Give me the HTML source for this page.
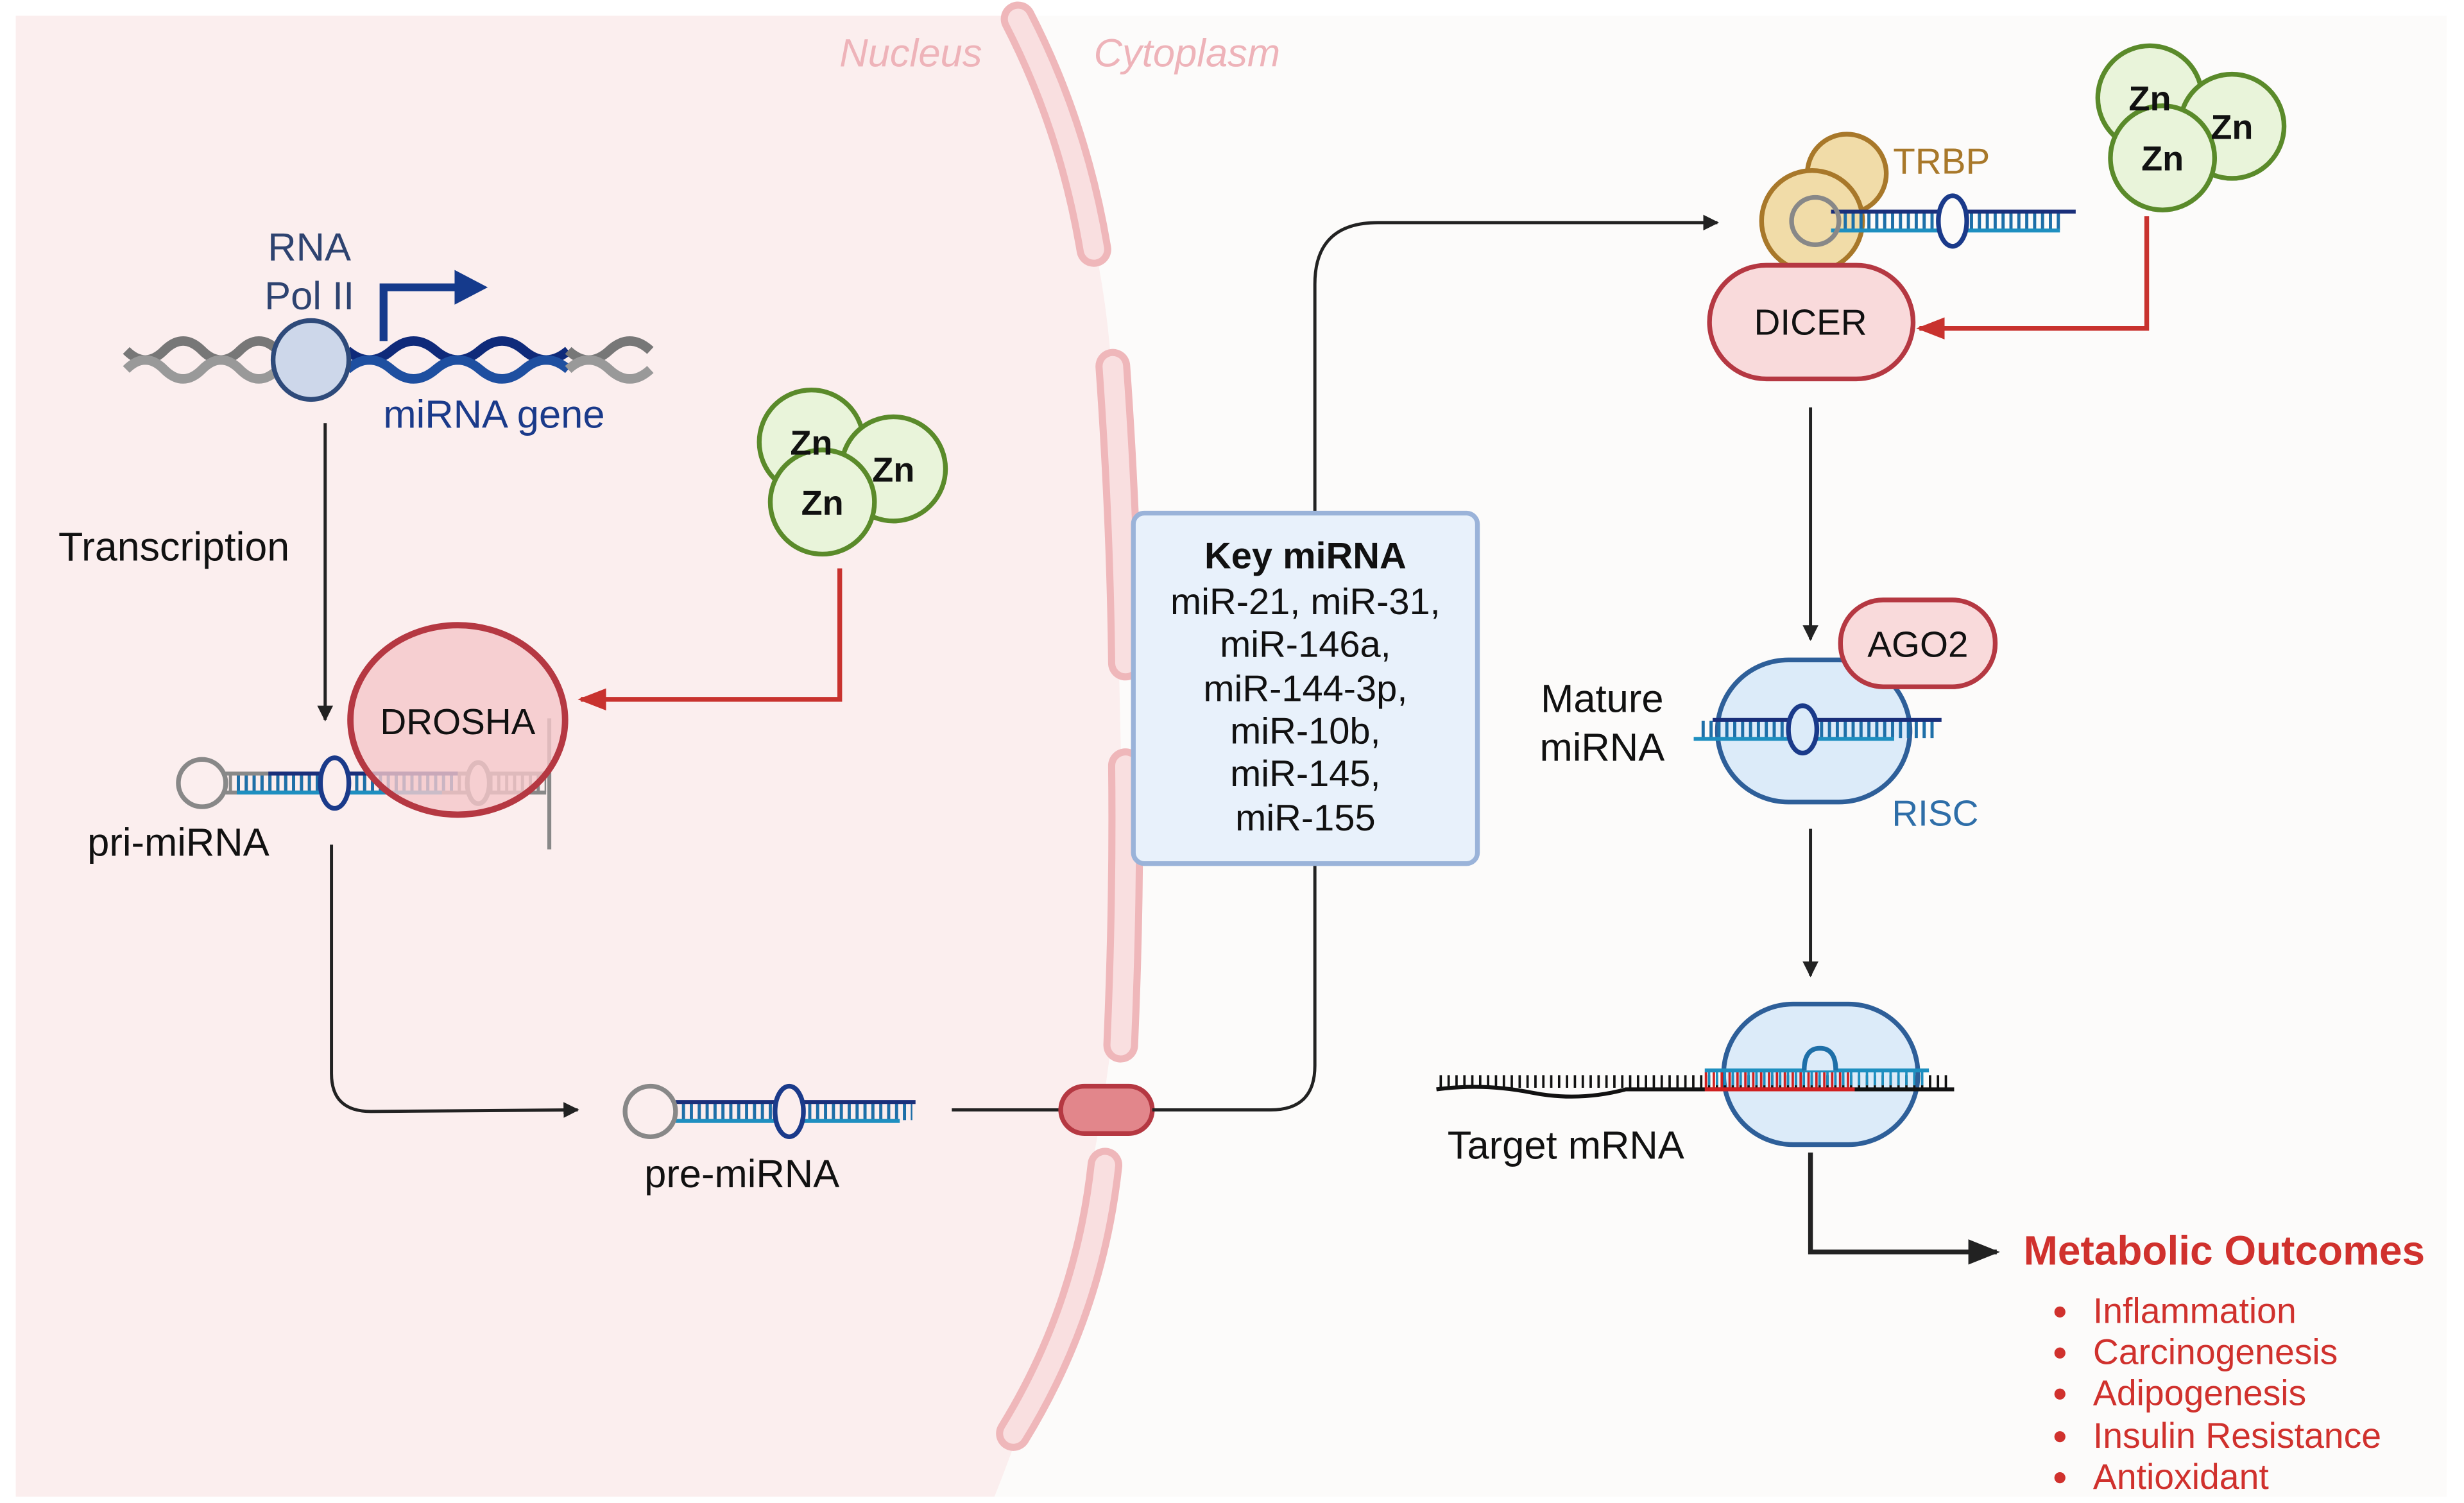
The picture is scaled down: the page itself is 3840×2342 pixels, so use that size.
<!DOCTYPE html>
<html><head><meta charset="utf-8"><style>
html,body{margin:0;padding:0;background:#fff;}
svg{display:block;}
text{font-family:"Liberation Sans",sans-serif;}
</style></head><body>
<svg width="3840" height="2342" viewBox="0 0 1561 952" preserveAspectRatio="none" xmlns="http://www.w3.org/2000/svg">
<defs>
<marker id="ab" markerWidth="10" markerHeight="10" refX="9" refY="5" orient="auto" markerUnits="userSpaceOnUse"><path d="M0,0 L10,5 L0,10 z" fill="#222"/></marker>
<marker id="ar" markerWidth="18" markerHeight="14" refX="16" refY="7" orient="auto" markerUnits="userSpaceOnUse"><path d="M0,0 L18,7 L0,14 z" fill="#c8322e"/></marker>
<marker id="abig" markerWidth="20" markerHeight="16" refX="18" refY="8" orient="auto" markerUnits="userSpaceOnUse"><path d="M0,0 L20,8 L0,16 z" fill="#222"/></marker>
</defs>
<rect x="0" y="0" width="1561" height="952" fill="#fff"/>
<rect x="10" y="10" width="1540" height="938" fill="#fcfbfa"/>
<path d="M10,10 L640,10 Q700,120 705,250 L712,560 Q705,760 630,948 L10,948 z" fill="#fbeeee"/>
<g fill="none" stroke-linecap="round">
<g stroke="#efb7ba" stroke-width="22">
<path d="M645,12 Q680,80 693,158"/>
<path d="M705,232 Q712,330 713,420"/>
<path d="M713,485 Q714,570 710,662"/>
<path d="M700,738 Q690,830 642,908"/>
</g>
<g stroke="#f9dfe0" stroke-width="13">
<path d="M645,12 Q680,80 693,158"/>
<path d="M705,232 Q712,330 713,420"/>
<path d="M713,485 Q714,570 710,662"/>
<path d="M700,738 Q690,830 642,908"/>
</g>
</g>
<text x="577" y="42" font-size="25" font-style="italic" fill="#eeb3b9" text-anchor="middle">Nucleus</text>
<text x="752" y="42" font-size="25" font-style="italic" fill="#eeb3b9" text-anchor="middle">Cytoplasm</text>

<g fill="none" stroke-width="6">
<path d="M80,222 q12,12 24,0 t24,0 t24,0 t24,0" stroke="#777"/>
<path d="M80,234 q12,-12 24,0 t24,0 t24,0 t24,0" stroke="#999"/>
<path d="M220,222 q14,12 28,0 t28,0 t28,0 t28,0 t28,0" stroke="#0f2a7a"/>
<path d="M220,234 q14,-12 28,0 t28,0 t28,0 t28,0 t28,0" stroke="#1e4fa0"/>
<path d="M360,222 q13,12 26,0 t26,0" stroke="#777"/>
<path d="M360,234 q13,-12 26,0 t26,0" stroke="#999"/>
</g>
<ellipse cx="197" cy="228" rx="24" ry="25" fill="#cdd7ea" stroke="#2e4a7a" stroke-width="3"/>
<path d="M243,216 L243,182 L290,182" fill="none" stroke="#153a8c" stroke-width="5"/>
<path d="M288,171 L309,182 L288,193 z" fill="#153a8c"/>
<text x="196" y="165" font-size="25" fill="#2e4370" text-anchor="middle">RNA</text>
<text x="196" y="196" font-size="25" fill="#2e4370" text-anchor="middle">Pol II</text>
<text x="313" y="271" font-size="25" fill="#1a3a8a" text-anchor="middle">miRNA gene</text>

<line x1="206" y1="268" x2="206" y2="456" stroke="#222" stroke-width="2" marker-end="url(#ab)"/>
<text x="37" y="355" font-size="25.5" fill="#111">Transcription</text>

<g fill="none">
<line x1="145" y1="496" x2="346" y2="496" stroke="#888" stroke-width="11" stroke-dasharray="2 3"/>
<line x1="150" y1="496" x2="290" y2="496" stroke="#1e6fa8" stroke-width="11" stroke-dasharray="2 3"/>
<line x1="140" y1="490" x2="346" y2="490" stroke="#888" stroke-width="2.5"/>
<line x1="140" y1="502" x2="346" y2="502" stroke="#888" stroke-width="2.5"/>
<line x1="170" y1="490" x2="290" y2="490" stroke="#1a2f7a" stroke-width="2.5"/>
<line x1="150" y1="502" x2="280" y2="502" stroke="#1e8fc0" stroke-width="2.5"/>
<circle cx="128" cy="496" r="15" fill="#fbeeee" stroke="#888" stroke-width="3"/>
<ellipse cx="212" cy="496" rx="9" ry="16" fill="#fbeeee" stroke="#1a3a8a" stroke-width="3"/>
<ellipse cx="303" cy="496" rx="7" ry="13" fill="#fbeeee" stroke="#888" stroke-width="3"/>
<line x1="348" y1="455" x2="348" y2="538" stroke="#888" stroke-width="2.5"/>
</g>
<ellipse cx="290" cy="456" rx="68" ry="60" fill="#f5c7c9" fill-opacity="0.8" stroke="#b53842" stroke-width="4"/>
<text x="290" y="465" font-size="23" fill="#111" text-anchor="middle">DROSHA</text>
<text x="113" y="542" font-size="25" fill="#111" text-anchor="middle">pri-miRNA</text>

<g stroke="#5a8a2a" stroke-width="3" fill="#e9f4da">
<circle cx="514" cy="280" r="33"/><circle cx="566" cy="297" r="33"/><circle cx="521" cy="318" r="33"/>
</g>
<g font-size="22" font-weight="bold" fill="#111" text-anchor="middle">
<text x="514" y="288">Zn</text><text x="566" y="305">Zn</text><text x="521" y="326">Zn</text>
</g>
<path d="M532,360 L532,443 L368,443" fill="none" stroke="#c8322e" stroke-width="3" marker-end="url(#ar)"/>

<path d="M210,535 L210,680 Q210,704 235,704 L366,703" fill="none" stroke="#222" stroke-width="2" marker-end="url(#ab)"/>

<g fill="none">
<line x1="432" y1="704" x2="578" y2="704" stroke="#1e6fa8" stroke-width="11" stroke-dasharray="2 3"/>
<line x1="428" y1="698" x2="580" y2="698" stroke="#1a2f7a" stroke-width="2.5"/>
<line x1="428" y1="710" x2="570" y2="710" stroke="#1e8fc0" stroke-width="2.5"/>
<circle cx="412" cy="704" r="16" fill="#fbeeee" stroke="#888" stroke-width="3"/>
<ellipse cx="500" cy="704" rx="9" ry="16" fill="#fbeeee" stroke="#1a3a8a" stroke-width="3"/>
</g>
<text x="470" y="752" font-size="25" fill="#111" text-anchor="middle">pre-miRNA</text>

<line x1="603" y1="703" x2="672" y2="703" stroke="#222" stroke-width="2"/>
<rect x="672" y="688" width="58" height="30" rx="15" fill="#e2868b" stroke="#b53842" stroke-width="3"/>
<path d="M730,703 L805,703 Q833,703 833,675 L833,548" fill="none" stroke="#222" stroke-width="2"/>
<path d="M833,325 L833,180 Q833,141 873,141 L1088,141" fill="none" stroke="#222" stroke-width="2" marker-end="url(#ab)"/>

<rect x="718" y="325" width="218" height="222" rx="7" fill="#e8f1fb" stroke="#9ab3d9" stroke-width="3"/>
<g font-size="23.5" fill="#111" text-anchor="middle">
<text x="827" y="360" font-weight="bold">Key miRNA</text>
<text x="827" y="389">miR-21, miR-31,</text>
<text x="827" y="416">miR-146a,</text>
<text x="827" y="444">miR-144-3p,</text>
<text x="827" y="471">miR-10b,</text>
<text x="827" y="498">miR-145,</text>
<text x="827" y="526">miR-155</text>
</g>

<circle cx="1170" cy="110" r="25" fill="#f1dca8" stroke="#a8782a" stroke-width="3"/>
<circle cx="1148" cy="140" r="32" fill="#f1dca8" stroke="#a8782a" stroke-width="3"/>
<g fill="none">
<line x1="1168" y1="140" x2="1305" y2="140" stroke="#1e6fa8" stroke-width="11" stroke-dasharray="2 3"/>
<line x1="1160" y1="134" x2="1315" y2="134" stroke="#1a2f7a" stroke-width="2.5"/>
<line x1="1160" y1="146" x2="1305" y2="146" stroke="#1e8fc0" stroke-width="2.5"/>
<circle cx="1150" cy="140" r="15" fill="none" stroke="#888" stroke-width="3"/>
<ellipse cx="1237" cy="140" rx="9" ry="16" fill="#fcfbfa" stroke="#1a3a8a" stroke-width="3"/>
</g>
<text x="1230" y="110" font-size="23" fill="#a8782a" text-anchor="middle">TRBP</text>
<rect x="1083" y="168" width="129" height="72" rx="36" fill="#f9dadb" stroke="#b53842" stroke-width="3"/>
<text x="1147" y="212" font-size="23" fill="#111" text-anchor="middle">DICER</text>

<g stroke="#5a8a2a" stroke-width="3" fill="#e9f4da">
<circle cx="1362" cy="62" r="33"/><circle cx="1414" cy="80" r="33"/><circle cx="1370" cy="100" r="33"/>
</g>
<g font-size="22" font-weight="bold" fill="#111" text-anchor="middle">
<text x="1362" y="70">Zn</text><text x="1414" y="88">Zn</text><text x="1370" y="108">Zn</text>
</g>
<path d="M1360,137 L1360,208 L1216,208" fill="none" stroke="#c8322e" stroke-width="3" marker-end="url(#ar)"/>

<line x1="1147" y1="258" x2="1147" y2="405" stroke="#222" stroke-width="2" marker-end="url(#ab)"/>

<rect x="1088" y="418" width="122" height="90" rx="45" fill="#dcebf9" stroke="#2e5f99" stroke-width="3"/>
<rect x="1166" y="380" width="98" height="55" rx="27" fill="#f9dadb" stroke="#b53842" stroke-width="3"/>
<text x="1215" y="416" font-size="23" fill="#111" text-anchor="middle">AGO2</text>
<g fill="none">
<line x1="1078" y1="462" x2="1225" y2="462" stroke="#1e6fa8" stroke-width="11" stroke-dasharray="2 3"/>
<line x1="1085" y1="456" x2="1230" y2="456" stroke="#1a2f7a" stroke-width="2.5"/>
<line x1="1073" y1="468" x2="1200" y2="468" stroke="#1e8fc0" stroke-width="2.5"/>
<ellipse cx="1142" cy="462" rx="9" ry="15" fill="#dcebf9" stroke="#1a3a8a" stroke-width="3"/>
</g>
<text x="1226" y="523" font-size="23" fill="#2e6ea8" text-anchor="middle">RISC</text>
<text x="1015" y="451" font-size="25" fill="#111" text-anchor="middle">Mature</text>
<text x="1015" y="482" font-size="25" fill="#111" text-anchor="middle">miRNA</text>

<line x1="1147" y1="525" x2="1147" y2="618" stroke="#222" stroke-width="2" marker-end="url(#ab)"/>

<rect x="1092" y="636" width="123" height="89" rx="44" fill="#dcebf9" stroke="#2e5f99" stroke-width="3"/>
<g fill="none">
<path d="M910,690 q30,-4 60,2 t60,-2 L1238,690" stroke="#111" stroke-width="2.5"/>
<line x1="912" y1="685" x2="1235" y2="685" stroke="#111" stroke-width="8" stroke-dasharray="1.5 3.5"/>
<line x1="1080" y1="684" x2="1175" y2="684" stroke="#d02020" stroke-width="10" stroke-dasharray="1.5 3.5"/>
<line x1="1080" y1="690" x2="1175" y2="690" stroke="#d02020" stroke-width="2.5"/>
<line x1="1080" y1="678" x2="1222" y2="678" stroke="#1e8fc0" stroke-width="2.5"/>
<line x1="1082" y1="683" x2="1220" y2="683" stroke="#1e8fc0" stroke-width="9" stroke-dasharray="1.5 3.5"/>
<path d="M1143,678 q0,-14 10,-14 q10,0 10,14" stroke="#1e6fa8" stroke-width="3" fill="#dcebf9"/>
</g>
<text x="992" y="734" font-size="25" fill="#111" text-anchor="middle">Target mRNA</text>

<path d="M1147,730 L1147,793 L1265,793" fill="none" stroke="#222" stroke-width="3" marker-end="url(#abig)"/>
<text x="1282" y="801" font-size="26" font-weight="bold" fill="#d0312d">Metabolic Outcomes</text>
<g font-size="22.5" fill="#d0312d">
<circle cx="1305" cy="831" r="3.5"/><text x="1326" y="838">Inflammation</text>
<circle cx="1305" cy="857" r="3.5"/><text x="1326" y="864">Carcinogenesis</text>
<circle cx="1305" cy="883" r="3.5"/><text x="1326" y="890">Adipogenesis</text>
<circle cx="1305" cy="910" r="3.5"/><text x="1326" y="917">Insulin Resistance</text>
<circle cx="1305" cy="936" r="3.5"/><text x="1326" y="943">Antioxidant</text>
</g>
</svg>
</body></html>
